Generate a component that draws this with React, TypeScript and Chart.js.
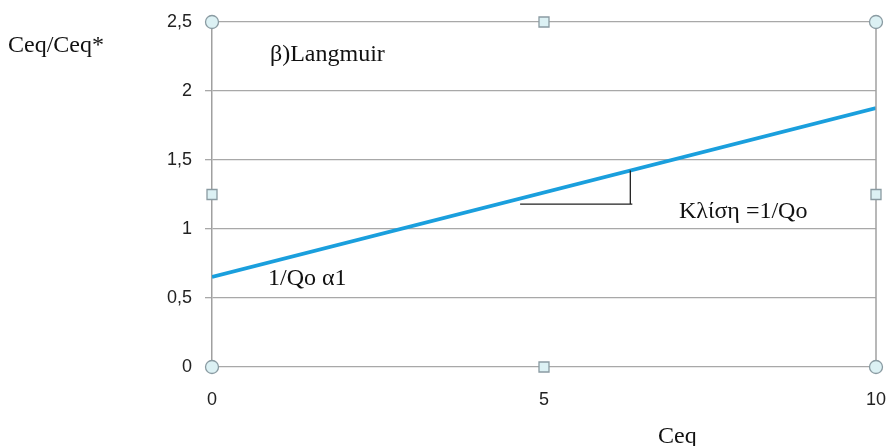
import React, { useEffect, useRef } from "react";
import { Chart, registerables } from "chart.js";

Chart.register(...registerables);

const lineX: number[] = [0, 10];
const lineY: number[] = [0.652, 1.877];
const xTicks: number[] = [0, 5, 10];
const yTicks: number[] = [0, 0.5, 1, 1.5, 2, 2.5];
const slopeX: number[] = [4.64, 6.3];
const slopeBaseY: number = 1.18;
const yTitle = "Ceq/Ceq*";
const xTitle = "Ceq";
const panelLabel = "β)Langmuir";
const slopeLabel = "Κλίση =1/Qo";
const interceptLabel = "1/Qo α1";

const lineAt = (x: number) =>
  lineY[0] + ((lineY[1] - lineY[0]) * (x - lineX[0])) / (lineX[1] - lineX[0]);

const overlay = {
  id: "overlay",
  afterDraw(chart: any) {
    const ctx = chart.ctx;
    const xs = chart.scales.x;
    const ys = chart.scales.y;
    const ca = chart.chartArea;
    ctx.save();
    // right frame line
    ctx.strokeStyle = "#a0a0a0";
    ctx.lineWidth = 1.5;
    ctx.beginPath();
    ctx.moveTo(ca.right, ca.top);
    ctx.lineTo(ca.right, ca.bottom);
    ctx.stroke();

    // slope triangle
    ctx.strokeStyle = "#222";
    ctx.lineWidth = 1.3;
    ctx.beginPath();
    ctx.moveTo(xs.getPixelForValue(slopeX[0]), ys.getPixelForValue(slopeBaseY));
    ctx.lineTo(xs.getPixelForValue(slopeX[1]) + 2, ys.getPixelForValue(slopeBaseY));
    ctx.moveTo(xs.getPixelForValue(slopeX[1]), ys.getPixelForValue(slopeBaseY));
    ctx.lineTo(xs.getPixelForValue(slopeX[1]), ys.getPixelForValue(lineAt(slopeX[1])));
    ctx.stroke();

    // texts
    ctx.fillStyle = "#111";
    ctx.textBaseline = "alphabetic";
    ctx.textAlign = "left";
    ctx.font = "24px 'Liberation Serif', serif";
    ctx.fillText(yTitle, 8, 52);
    ctx.fillText(panelLabel, 270, 61);
    ctx.fillText(slopeLabel, 679, 218);
    ctx.fillText(interceptLabel, 268, 285);
    ctx.fillText(xTitle, 658, 443);

    // selection handles
    const midX = (ca.left + ca.right) / 2;
    const midY = (ca.top + ca.bottom) / 2;
    const circles = [
      [ca.left, ca.top],
      [ca.right, ca.top],
      [ca.left, ca.bottom],
      [ca.right, ca.bottom],
    ];
    ctx.lineWidth = 1.3;
    ctx.strokeStyle = "#8a9ba2";
    ctx.fillStyle = "#dcf1f4";
    for (const [cx, cy] of circles) {
      ctx.beginPath();
      ctx.arc(cx, cy, 6.5, 0, Math.PI * 2);
      ctx.fill();
      ctx.stroke();
    }
    const squares = [
      [midX, ca.top],
      [midX, ca.bottom],
      [ca.left, midY],
      [ca.right, midY],
    ];
    for (const [cx, cy] of squares) {
      ctx.beginPath();
      ctx.rect(cx - 5, cy - 5, 10, 10);
      ctx.fill();
      ctx.stroke();
    }
    ctx.restore();
  },
};

export default function App() {
  const ref = useRef<HTMLCanvasElement | null>(null);
  useEffect(() => {
    if (!ref.current) return;
    const chart = new Chart(ref.current, {
      type: "scatter",
      data: {
        datasets: [
          {
            data: lineX.map((x, i) => ({ x, y: lineY[i] })),
            showLine: true,
            borderColor: "#1a9fdd",
            borderWidth: 3.8,
            pointRadius: 0,
            fill: false,
          },
        ],
      },
      options: {
        animation: false,
        responsive: false,
        devicePixelRatio: 1,
        layout: { autoPadding: false, padding: { top: 22, right: 12, left: 0, bottom: 0 } },
        plugins: { legend: { display: false }, tooltip: { enabled: false } },
        scales: {
          x: {
            type: "linear",
            min: 0,
            max: 10,
            afterBuildTicks: (s: any) => {
              s.ticks = xTicks.map((v) => ({ value: v }));
            },
            afterFit: (s: any) => {
              s.height = 79;
              s.paddingLeft = 0;
              s.paddingRight = 0;
            },
            grid: { display: false },
            border: { display: false },
            ticks: {
              padding: 14,
              color: "#222",
              font: { family: "'Liberation Sans', sans-serif", size: 18 },
              maxRotation: 0,
              callback: (v: any) => String(v).replace(".", ","),
            },
          },
          y: {
            type: "linear",
            min: 0,
            max: 2.5,
            afterBuildTicks: (s: any) => {
              s.ticks = yTicks.map((v) => ({ value: v }));
            },
            afterFit: (s: any) => {
              s.width = 212;
              s.paddingTop = 0;
              s.paddingBottom = 0;
            },
            grid: { color: "#a8a8a8", lineWidth: 1.3, tickLength: 7 },
            border: { color: "#a0a0a0", width: 1.5 },
            ticks: {
              padding: 13,
              color: "#222",
              font: { family: "'Liberation Sans', sans-serif", size: 18 },
              callback: (v: any) => String(v).replace(".", ","),
            },
          },
        },
      },
      plugins: [overlay],
    });
    return () => chart.destroy();
  }, []);
  return (
    <div style={{ position: "absolute", left: 0, top: 0, width: 888, height: 446, background: "#fff" }}>
      <canvas ref={ref} width={888} height={446} />
    </div>
  );
}
